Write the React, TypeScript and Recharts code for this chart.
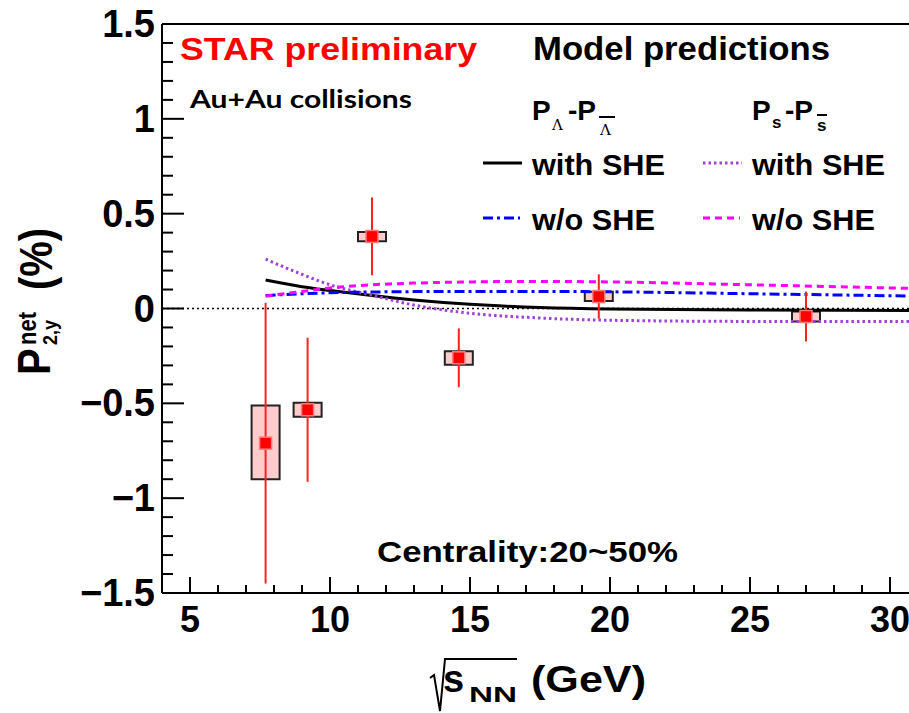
import {
  ComposedChart,
  Line,
  Scatter,
  ErrorBar,
  XAxis,
  YAxis,
  ReferenceLine,
  ReferenceArea,
} from "recharts";

// STAR data points
const energies = [7.7, 9.2, 11.5, 14.6, 19.6, 27];
const p2yNet = [-0.71, -0.534, 0.38, -0.26, 0.063, -0.042];
const statErr = [0.74, 0.38, 0.205, 0.155, 0.117, 0.132];
const sysHigh = [-0.512, -0.497, 0.403, -0.225, 0.088, -0.016];
const sysLow = [-0.9, -0.571, 0.354, -0.297, 0.04, -0.069];

// model curves
const curveX = [7.7, 9, 10, 11.5, 13, 15, 17.5, 20, 25, 31];
const lambdaWithShe = [0.15, 0.115, 0.095, 0.068, 0.045, 0.022, 0.005, -0.003, -0.008, -0.01];
const strangeWithShe = [0.26, 0.18, 0.125, 0.07, 0.018, -0.025, -0.05, -0.062, -0.068, -0.068];
const lambdaNoShe = [0.068, 0.078, 0.083, 0.087, 0.089, 0.09, 0.09, 0.088, 0.078, 0.065];
const strangeNoShe = [0.065, 0.09, 0.108, 0.125, 0.134, 0.14, 0.143, 0.14, 0.125, 0.105];

// axes
const xMajor = [5, 10, 15, 20, 25, 30];
const yMajor = [-1.5, -1, -0.5, 0, 0.5, 1, 1.5];
const yMajorLabels = ["\u22121.5", "\u22121", "\u22120.5", "0", "0.5", "1", "1.5"];

const xTicks: number[] = [];
for (let v = 4; v <= 31; v++) xTicks.push(v);
const yTicks: number[] = [];
for (let i = -15; i <= 15; i++) yTicks.push(i / 10);

const points = energies.map((x, i) => ({ x, y: p2yNet[i], err: statErr[i] }));
const toCurve = (ys: number[]) => curveX.map((x, i) => ({ x, y: ys[i] }));

const FONT = "'Liberation Sans', Arial, sans-serif";
const PLOT_LEFT = 162;
const PLOT_BOTTOM = 593;

const YTick = (props: any) => {
  const { y, payload } = props;
  const v = payload.value;
  const idx = yMajor.findIndex((m) => Math.abs(m - v) < 1e-6);
  const major = idx >= 0;
  return (
    <g>
      <line x1={PLOT_LEFT} x2={PLOT_LEFT + (major ? 22 : 11)} y1={y} y2={y} stroke="#000" strokeWidth={2} />
      {major && (
        <text x={155} y={y + 13} textAnchor="end" fontFamily={FONT} fontWeight="bold" fontSize={38} fill="#000">
          {yMajorLabels[idx]}
        </text>
      )}
    </g>
  );
};

const XTick = (props: any) => {
  const { x, payload } = props;
  const v = payload.value;
  const major = xMajor.includes(v);
  return (
    <g>
      <line x1={x} x2={x} y1={PLOT_BOTTOM} y2={PLOT_BOTTOM - (major ? 16 : 8)} stroke="#000" strokeWidth={2} />
      {major && (
        <text x={x} y={632} textAnchor="middle" fontFamily={FONT} fontWeight="bold" fontSize={36} fill="#000">
          {v}
        </text>
      )}
    </g>
  );
};

const Marker = (props: any) => {
  const { cx, cy } = props;
  return <rect x={cx - 6} y={cy - 6} width={12} height={12} fill="#ff0000" stroke="#ff7a7a" strokeWidth={1.5} />;
};

const bold = { fontFamily: FONT, fontWeight: "bold" as const, fill: "#000" };

const Annotations = () => (
  <svg
    width={909}
    height={713}
    style={{ position: "absolute", left: 0, top: 0, pointerEvents: "none" }}
  >
    <text x={180} y={60} {...bold} fill="#ff0000" fontSize={32} textLength={297} lengthAdjust="spacingAndGlyphs">
      STAR preliminary
    </text>
    <text x={533} y={60} {...bold} fontSize={33} textLength={297} lengthAdjust="spacingAndGlyphs">
      Model predictions
    </text>
    <text x={190} y={108} fontFamily="Lato, 'Open Sans', sans-serif" fontWeight="bold" fontSize={25} textLength={222} lengthAdjust="spacingAndGlyphs">
      Au+Au collisions
    </text>

    {/* column headers */}
    <text x={532} y={120} {...bold} fontSize={28}>P</text>
    <text x={552} y={130} fontFamily="'DejaVu Serif', serif" fontSize={15}>Λ</text>
    <text x={568} y={120} {...bold} fontSize={28}>-P</text>
    <line x1={599} x2={615} y1={117} y2={117} stroke="#000" strokeWidth={2} />
    <text x={600} y={135} fontFamily="'DejaVu Serif', serif" fontSize={15}>Λ</text>

    <text x={752} y={120} {...bold} fontSize={28}>P</text>
    <text x={772} y={128} {...bold} fontSize={17}>s</text>
    <text x={785} y={120} {...bold} fontSize={28}>-P</text>
    <line x1={817} x2={827} y1={115} y2={115} stroke="#000" strokeWidth={2} />
    <text x={817} y={131} {...bold} fontSize={17}>s</text>

    {/* legend rows */}
    <line x1={483} x2={522} y1={163} y2={163} stroke="#000" strokeWidth={3} />
    <text x={532} y={175} {...bold} fontSize={30} textLength={133} lengthAdjust="spacingAndGlyphs">with SHE</text>
    <line x1={703} x2={742} y1={163} y2={163} stroke="#a040d8" strokeWidth={3} strokeDasharray="2.5 3" />
    <text x={752} y={175} {...bold} fontSize={30} textLength={133} lengthAdjust="spacingAndGlyphs">with SHE</text>
    <line x1={483} x2={520} y1={218} y2={218} stroke="#0000ff" strokeWidth={3} strokeDasharray="10 4 3 4" />
    <text x={532} y={230} {...bold} fontSize={30} textLength={123} lengthAdjust="spacingAndGlyphs">w/o SHE</text>
    <line x1={703} x2={740} y1={218} y2={218} stroke="#ff00ff" strokeWidth={3} strokeDasharray="7 5" />
    <text x={752} y={230} {...bold} fontSize={30} textLength={123} lengthAdjust="spacingAndGlyphs">w/o SHE</text>

    <text x={377} y={562} {...bold} fontSize={30} textLength={301} lengthAdjust="spacingAndGlyphs">
      Centrality:20~50%
    </text>

    {/* x axis title */}
    <path d="M430,678 L434,675 L440,711 L445,659 L517,659" fill="none" stroke="#000" strokeWidth={2} />
    <text x={443} y={692} {...bold} fontSize={38}>s</text>
    <text x={469} y={702} {...bold} fontSize={22} textLength={48} lengthAdjust="spacingAndGlyphs">NN</text>
    <text x={531} y={692} {...bold} fontSize={37} textLength={115} lengthAdjust="spacingAndGlyphs">(GeV)</text>

    {/* y axis title */}
    <g transform="translate(50,375) scale(1.15,1) rotate(-90)">
      <text x={0} y={0} {...bold} fontSize={40}>P</text>
      <text x={30} y={-12} {...bold} fontSize={22}>net</text>
      <text x={30} y={6} {...bold} fontSize={18}>2,y</text>
      <text x={85} y={2} {...bold} fontSize={40}>(%)</text>
    </g>
  </svg>
);

const App = () => {
  return (
    <div style={{ position: "absolute", left: 0, top: 0, width: 909, height: 713, overflow: "hidden", background: "#fff" }}>
      <ComposedChart width={918} height={713} margin={{ top: 24, right: 0, bottom: 0, left: 0 }}>
        <XAxis
          dataKey="x"
          type="number"
          domain={[4, 31]}
          ticks={xTicks}
          interval={0}
          height={120}
          axisLine={{ stroke: "#000", strokeWidth: 2 }}
          tickLine={false}
          tick={XTick}
          allowDataOverflow
        />
        <YAxis
          dataKey="y"
          type="number"
          domain={[-1.5, 1.5]}
          ticks={yTicks}
          interval={0}
          width={PLOT_LEFT}
          axisLine={{ stroke: "#000", strokeWidth: 2 }}
          tickLine={false}
          tick={YTick}
          allowDataOverflow
        />
        <ReferenceLine y={1.5} stroke="#000" strokeWidth={2} />
        <ReferenceLine y={0} stroke="#000" strokeWidth={1.5} strokeDasharray="2 3" />

        <Line data={toCurve(lambdaWithShe)} dataKey="y" type="monotone" stroke="#000" strokeWidth={3} dot={false} isAnimationActive={false} />
        <Line data={toCurve(strangeWithShe)} dataKey="y" type="monotone" stroke="#a040d8" strokeWidth={3} strokeDasharray="2.5 3" dot={false} isAnimationActive={false} />
        <Line data={toCurve(lambdaNoShe)} dataKey="y" type="monotone" stroke="#0000ff" strokeWidth={3} strokeDasharray="10 4 3 4" dot={false} isAnimationActive={false} />
        <Line data={toCurve(strangeNoShe)} dataKey="y" type="monotone" stroke="#ff00ff" strokeWidth={3} strokeDasharray="7 5" dot={false} isAnimationActive={false} />

        {energies.map((e, i) => (
          <ReferenceArea
            key={e}
            x1={e - 0.5}
            x2={e + 0.5}
            y1={sysLow[i]}
            y2={sysHigh[i]}
            fill="#ff8080"
            fillOpacity={0.4}
            stroke="#222"
            strokeWidth={2}
            strokeOpacity={1}
            ifOverflow="visible"
          />
        ))}

        <Scatter data={points} dataKey="y" shape={Marker} isAnimationActive={false}>
          <ErrorBar dataKey="err" direction="y" width={0} stroke="#ff2020" strokeWidth={2} isAnimationActive={false} />
        </Scatter>
      </ComposedChart>
      <Annotations />
    </div>
  );
};

export default App;
